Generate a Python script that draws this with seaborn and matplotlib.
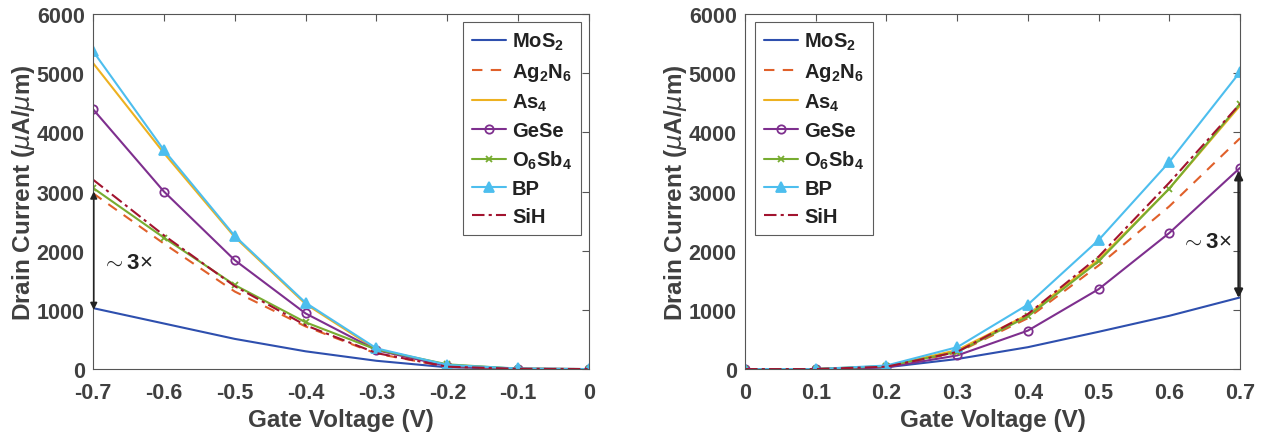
import numpy as np
import pandas as pd
import matplotlib
matplotlib.use("Agg")
import matplotlib.pyplot as plt
import seaborn as sns

# ---------------- data ----------------
series = ["MoS2", "Ag2N6", "As4", "GeSe", "O6Sb4", "BP", "SiH"]
labels = [r"MoS$_\mathbf{2}$", r"Ag$_\mathbf{2}$N$_\mathbf{6}$", r"As$_\mathbf{4}$",
          "GeSe", r"O$_\mathbf{6}$Sb$_\mathbf{4}$", "BP", "SiH"]

vg_neg = [-0.7, -0.6, -0.5, -0.4, -0.3, -0.2, -0.1, 0.0]
neg_MoS2 = [1030, 770, 510, 300, 140, 30, 5, 0]
neg_Ag2N6 = [2970, 2120, 1310, 720, 260, 40, 5, 0]
neg_As4 = [5170, 3650, 2230, 1100, 330, 70, 5, 0]
neg_GeSe = [4390, 3000, 1840, 940, 320, 50, 5, 0]
neg_O6Sb4 = [3060, 2220, 1420, 790, 330, 80, 5, 0]
neg_BP = [5370, 3700, 2250, 1120, 350, 70, 10, 0]
neg_SiH = [3200, 2260, 1400, 740, 270, 40, 5, 0]

vg_pos = [0.0, 0.1, 0.2, 0.3, 0.4, 0.5, 0.6, 0.7]
pos_MoS2 = [0, 0, 30, 170, 370, 630, 900, 1210]
pos_Ag2N6 = [0, 0, 40, 280, 860, 1750, 2750, 3900]
pos_As4 = [0, 0, 50, 320, 920, 1850, 3050, 4450]
pos_GeSe = [0, 0, 30, 230, 650, 1350, 2300, 3400]
pos_O6Sb4 = [0, 0, 50, 290, 890, 1820, 3050, 4480]
pos_BP = [0, 0, 60, 370, 1090, 2180, 3500, 5020]
pos_SiH = [0, 0, 40, 290, 930, 1900, 3150, 4480]

neg_vals = [neg_MoS2, neg_Ag2N6, neg_As4, neg_GeSe, neg_O6Sb4, neg_BP, neg_SiH]
pos_vals = [pos_MoS2, pos_Ag2N6, pos_As4, pos_GeSe, pos_O6Sb4, pos_BP, pos_SiH]

neg_ticks = [-0.7, -0.6, -0.5, -0.4, -0.3, -0.2, -0.1, 0]
neg_ticklabels = ["-0.7", "-0.6", "-0.5", "-0.4", "-0.3", "-0.2", "-0.1", "0"]
pos_ticks = [0, 0.1, 0.2, 0.3, 0.4, 0.5, 0.6, 0.7]
pos_ticklabels = ["0", "0.1", "0.2", "0.3", "0.4", "0.5", "0.6", "0.7"]
y_ticks = [0, 1000, 2000, 3000, 4000, 5000, 6000]

# ---------------- style ----------------
sns.set_theme(style="white")
plt.rcParams["font.family"] = ["Liberation Sans", "DejaVu Sans"]
plt.rcParams["mathtext.fontset"] = "custom"
plt.rcParams["mathtext.rm"] = "Liberation Sans"
plt.rcParams["mathtext.bf"] = "Liberation Sans:bold"
plt.rcParams["mathtext.it"] = "DejaVu Sans:italic"

colors = ["#2E4FAE", "#E0602A", "#EDB120", "#7E2F8E", "#77AC30", "#4DBEEE", "#A2142F"]
styles = ["-", (0, (5, 4)), "-", "-", "-", "-", (0, (6, 2, 1.5, 2))]
markers = [None, None, None, "o", "x", "^", None]
msizes = [0, 0, 0, 6, 4, 7, 0]
mfill = [None, None, None, "none", None, None, None]

TXT = "#404040"

fig = plt.figure(figsize=(12.78, 4.39), dpi=100)
ax1 = fig.add_axes([0.0728, 0.157, 0.3881, 0.809])
ax2 = fig.add_axes([0.583, 0.157, 0.3873, 0.809])


def draw(ax, xs, vals):
    for i, name in enumerate(series):
        df = pd.DataFrame({"x": xs, "y": vals[i]})
        kw = dict(color=colors[i], linestyle=styles[i], linewidth=1.5,
                  label=labels[i], ax=ax, legend=True)
        if markers[i] is not None:
            kw["marker"] = markers[i]
            kw["markersize"] = msizes[i]
            kw["markeredgewidth"] = 1.3
            if mfill[i] == "none":
                kw["markerfacecolor"] = "none"
                kw["markeredgecolor"] = colors[i]
            else:
                kw["markerfacecolor"] = colors[i]
                kw["markeredgecolor"] = colors[i]
        sns.lineplot(data=df, x="x", y="y", **kw)


draw(ax1, vg_neg, neg_vals)
draw(ax2, vg_pos, pos_vals)

for ax, ticks, tl, lim, loc in [
    (ax1, neg_ticks, neg_ticklabels, (-0.7, 0), "upper right"),
    (ax2, pos_ticks, pos_ticklabels, (0, 0.7), "upper left"),
]:
    ax.set_xlim(*lim)
    ax.set_ylim(0, 6000)
    ax.set_xticks(ticks)
    ax.set_xticklabels(tl)
    ax.set_yticks(y_ticks)
    ax.set_yticklabels([str(v) for v in y_ticks])
    ax.tick_params(direction="in", length=5, width=0.8, color="#555555",
                   top=True, right=True, labelsize=15.5, labelcolor=TXT)
    ax.tick_params(axis="x", pad=9)
    ax.tick_params(axis="y", pad=6)
    for lab in ax.get_xticklabels() + ax.get_yticklabels():
        lab.set_fontweight("bold")
    for sp in ax.spines.values():
        sp.set_color("#555555")
        sp.set_linewidth(0.8)
    ax.set_xlabel("Gate Voltage (V)", fontsize=17.5, fontweight="bold", color=TXT, labelpad=4)
    ax.set_ylabel(r"Drain Current ($\mu$A/$\mu$m)", fontsize=17.5, fontweight="bold",
                  color=TXT, labelpad=0)
    ax.grid(False)
    leg = ax.legend(loc=loc, bbox_to_anchor=(0.984, 0.977) if loc == "upper right" else (0.02, 0.977),
                    prop={"weight": "bold", "size": 14.5}, frameon=True, fancybox=False,
                    edgecolor="#333333", handlelength=1.7, handletextpad=0.3,
                    labelspacing=0.42, borderpad=0.45, borderaxespad=0)
    leg.get_frame().set_linewidth(0.8)
    for t in leg.get_texts():
        t.set_color("#222222")

# annotations
ax1.annotate("", xy=(-0.699, 3000), xytext=(-0.699, 1000),
             arrowprops=dict(arrowstyle="<|-|>", color="#222222", lw=1.2,
                             shrinkA=0, shrinkB=0, mutation_scale=10))
ax1.text(-0.689, 1800, r"$\sim$3$\times$", fontsize=16, fontweight="bold",
         color="#222222", va="center", ha="left")

ax2.annotate("", xy=(0.698, 3350), xytext=(0.698, 1200),
             arrowprops=dict(arrowstyle="<|-|>", color="#222222", lw=1.8,
                             shrinkA=0, shrinkB=0, mutation_scale=12))
ax2.text(0.689, 2150, r"$\sim$3$\times$", fontsize=16, fontweight="bold",
         color="#222222", va="center", ha="right")

fig.savefig("out.png", dpi=100)
